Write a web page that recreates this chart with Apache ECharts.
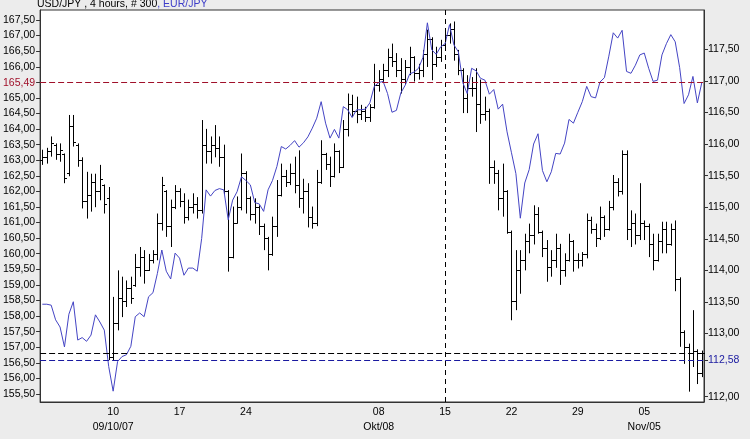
<!DOCTYPE html>
<html>
<head>
<meta charset="utf-8">
<script src="https://cdn.jsdelivr.net/npm/echarts@6/dist/echarts.min.js"></script>
<style>
html,body{margin:0;padding:0;background:#ececec;}
#c{width:750px;height:439px;}
</style>
</head>
<body>
<div id="c"></div>
<script>
// USD/JPY OHLC bars (right axis), EUR/JPY line (left axis)
const usdOpen = [
115.74,115.79,115.89,115.99,115.84,115.84,115.54,116.29,115.99,115.74,
115.10,115.20,115.40,115.25,115.35,115.15,112.63,113.17,113.57,113.52,
113.72,113.77,114.06,114.21,114.01,114.16,114.26,114.75,115.25,114.70,
115.00,115.25,115.10,114.85,115.00,115.05,114.95,115.99,115.89,115.99,
115.94,115.79,115.25,114.21,114.75,115.00,115.54,115.15,114.90,115.00,
114.70,114.51,114.26,114.70,115.20,115.49,115.40,115.54,115.35,115.15,
115.25,114.85,114.75,115.40,115.85,115.69,115.49,115.89,115.64,116.24,
116.63,116.53,116.48,116.53,116.43,116.58,116.93,117.03,117.17,117.37,
117.32,117.17,117.03,117.22,117.37,117.12,117.17,117.42,117.67,117.27,
117.37,117.57,117.72,117.82,117.42,117.17,116.73,116.88,116.88,116.63,
116.48,116.53,115.64,115.54,115.15,115.25,114.60,113.52,114.01,114.16,
114.46,114.56,114.90,114.60,114.36,114.06,114.16,114.36,114.01,114.16,
114.46,114.16,114.16,114.26,114.80,114.65,114.51,114.85,114.65,115.00,
115.40,115.25,115.84,114.65,114.75,114.56,114.75,114.70,114.41,114.16,
114.46,114.65,114.41,114.65,113.86,113.02,112.78,112.58,112.73,112.38
];
const usdHigh = [
115.91,115.94,116.12,116.01,116.01,115.85,116.46,116.46,116.01,115.79,
115.56,115.53,115.53,115.67,115.36,115.32,113.58,114.00,113.90,113.84,
113.90,114.26,114.37,114.32,114.26,114.32,114.90,115.48,115.27,115.12,
115.35,115.30,115.22,115.12,115.22,115.16,116.38,116.24,116.12,116.30,
116.12,115.99,115.27,115.01,115.17,115.85,115.57,115.17,115.14,115.03,
114.74,114.53,114.85,115.43,115.69,115.59,115.69,115.80,115.90,115.45,
115.38,115.01,115.59,116.06,115.86,115.80,116.01,115.90,116.38,116.80,
116.78,116.75,116.62,116.59,116.63,117.27,117.17,117.27,117.51,117.59,
117.44,117.36,117.33,117.54,117.39,117.27,117.49,117.81,117.69,117.54,
117.65,117.81,117.91,117.94,117.49,117.20,117.09,117.06,117.20,117.02,
116.75,116.56,115.74,115.59,115.69,115.27,114.63,114.32,114.32,114.58,
114.74,115.03,115.00,114.63,114.48,114.32,114.58,114.42,114.27,114.58,
114.48,114.27,114.29,114.90,114.85,114.74,115.01,114.87,115.10,115.51,
115.46,115.90,115.90,114.95,114.90,115.38,114.79,114.74,114.58,114.58,
114.77,114.77,114.74,114.79,113.89,113.05,112.84,113.37,112.75,112.73
];
const usdLow = [
115.67,115.69,115.80,115.75,115.72,115.38,115.49,115.96,115.64,114.98,
114.82,114.93,115.00,115.11,114.90,112.58,112.58,113.05,113.26,113.42,
113.47,113.74,113.90,113.79,113.99,114.11,114.16,114.63,114.53,114.37,
114.97,115.00,114.74,114.79,114.90,114.82,114.90,115.69,115.69,115.79,
115.64,115.20,113.98,114.19,114.74,114.95,114.90,114.79,114.74,114.56,
114.32,114.00,114.23,114.53,115.17,115.32,115.35,115.22,114.99,114.90,
114.68,114.66,114.70,115.37,115.59,115.32,115.47,115.54,115.62,116.12,
116.43,116.33,116.38,116.35,116.35,116.56,116.83,116.98,117.06,117.22,
117.06,116.80,116.95,117.09,116.99,117.02,117.06,117.22,117.01,117.22,
117.30,117.49,117.59,117.32,117.09,116.49,116.49,116.75,116.19,116.32,
116.37,115.37,115.37,114.95,114.85,114.58,113.21,113.37,113.63,114.00,
114.27,114.41,114.58,114.21,113.82,113.90,114.04,113.77,113.90,114.14,
113.98,114.03,114.06,114.19,114.58,114.37,114.48,114.53,114.63,114.95,
115.17,115.20,114.48,114.37,114.41,114.48,114.48,114.21,114.00,114.14,
114.27,114.27,114.39,113.67,112.79,112.52,112.08,112.47,112.20,112.31
];
const usdClose = [
115.79,115.89,116.01,115.84,115.91,115.47,116.29,116.04,115.74,115.10,
115.20,115.40,115.25,115.45,115.05,112.63,113.17,113.57,113.52,113.72,
113.57,114.06,114.21,114.01,114.16,114.26,114.75,115.35,114.70,115.00,
115.25,115.10,114.85,115.00,115.05,114.95,115.99,115.89,115.99,115.94,
115.79,115.25,114.21,114.75,115.00,115.54,115.15,114.90,115.00,114.70,
114.51,114.26,114.70,115.20,115.49,115.40,115.54,115.35,115.15,115.25,
114.85,114.75,115.40,115.85,115.69,115.49,115.89,115.64,116.24,116.63,
116.53,116.48,116.53,116.43,116.58,116.93,117.03,117.17,117.37,117.32,
117.17,117.03,117.22,117.37,117.12,117.17,117.42,117.67,117.27,117.37,
117.57,117.72,117.82,117.42,117.17,116.73,116.88,116.88,116.63,116.48,
116.53,115.64,115.54,115.15,115.25,114.60,113.52,114.01,114.16,114.46,
114.56,114.90,114.60,114.36,114.06,114.16,114.36,114.01,114.16,114.46,
114.16,114.16,114.26,114.80,114.65,114.51,114.85,114.65,115.00,115.40,
115.25,115.84,114.65,114.75,114.56,114.75,114.70,114.41,114.16,114.46,
114.65,114.41,114.65,113.86,113.02,112.78,112.58,112.73,112.38,112.69
];
const eurJpy = [
158.38,158.38,158.35,157.88,157.65,157.01,158.06,158.46,157.23,157.31,
157.19,157.39,158.04,157.81,157.55,156.38,155.59,156.54,156.70,156.76,
157.03,157.98,158.10,157.98,158.62,158.75,159.37,160.12,159.44,159.19,
160.02,159.86,159.31,159.54,159.54,159.44,160.49,162.05,161.85,162.03,
162.09,162.05,161.09,161.72,161.99,162.47,162.35,162.21,161.64,161.60,
161.36,162.05,162.35,162.80,163.44,163.36,163.48,163.63,163.42,163.56,
163.75,164.03,164.35,164.88,164.19,163.71,163.99,163.71,164.72,164.62,
164.37,164.62,164.62,164.64,164.84,165.37,165.49,165.53,165.14,164.54,
164.60,165.16,165.41,165.77,165.83,165.95,166.30,167.41,166.54,166.40,
166.64,166.74,167.35,166.70,166.48,165.49,165.14,165.95,165.87,165.63,
165.57,165.12,165.27,164.64,164.80,163.91,163.24,162.57,161.14,162.27,
162.70,163.52,163.85,162.67,162.31,162.63,163.22,163.20,163.55,164.31,
164.19,164.54,164.88,165.37,165.04,165.00,165.51,165.65,166.34,167.09,
166.92,167.17,165.85,165.79,166.05,166.38,166.44,165.95,165.53,165.57,
166.38,166.74,167.03,166.80,165.97,164.82,165.10,165.69,164.84,165.49
];

// x-axis tick positions (bar index) and labels
const tickIndex = [16, 31, 46, 76, 91, 106, 121, 136];
const tickDay = ['10', '17', '24', '08', '15', '22', '29', '05'];
const tickMonth = ['09/10/07', '', '', 'Okt/08', '', '', '', 'Nov/05'];

// y-axis tick labels
const leftTicks = [155.5,156,156.5,157,157.5,158,158.5,159,159.5,160,160.5,161,161.5,162,162.5,163,163.5,164,164.5,165,165.49,166,166.5,167,167.5];
const rightTicks = [112,112.58,113,113.5,114,114.5,115,115.5,116,116.5,117,117.5];

// reference levels
const eurLast = 165.49;
const usdLast = 112.69;
const usdMark = 112.58;
const markerBar = 91;

const categories = usdOpen.map((_, i) => String(i));
const ohlc = usdOpen.map((o, i) => [i, o, usdHigh[i], usdLow[i], usdClose[i]]);

const FONT = '"Liberation Sans", Arial, sans-serif';
const fmt = v => Number(v).toFixed(2).replace('.', ',');

function renderBar(params, api) {
  const i = api.value(0);
  const pO = api.coord([i, api.value(1)]);
  const pH = api.coord([i, api.value(2)]);
  const pL = api.coord([i, api.value(3)]);
  const pC = api.coord([i, api.value(4)]);
  const x = Math.round(pH[0]) + 0.5;
  const yo = Math.round(pO[1]) + 0.5;
  const yc = Math.round(pC[1]) + 0.5;
  const st = { stroke: '#000', lineWidth: 1 };
  return {
    type: 'group',
    children: [
      { type: 'line', shape: { x1: x, y1: pH[1], x2: x, y2: pL[1] }, style: st },
      { type: 'line', shape: { x1: x - 2.5, y1: yo, x2: x, y2: yo }, style: st },
      { type: 'line', shape: { x1: x, y1: yc, x2: x + 2.5, y2: yc }, style: st }
    ]
  };
}

const chart = echarts.init(document.getElementById('c'));
chart.setOption({
  animation: false,
  backgroundColor: '#ececec',
  textStyle: { fontFamily: FONT },
  title: {
    text: 'USD/JPY , 4 hours, # 300{b|, EUR/JPY}',
    left: 37, top: -1, padding: 0,
    textStyle: {
      fontFamily: FONT, fontSize: 10.5, fontWeight: 'normal', color: '#000',
      rich: { b: { fontFamily: FONT, fontSize: 10.5, color: '#3c3cc8' } }
    }
  },
  grid: {
    left: 38, right: 46, top: 10, bottom: 37,
    show: true, backgroundColor: '#ffffff', borderColor: '#333', borderWidth: 1
  },
  xAxis: {
    type: 'category',
    data: categories,
    boundaryGap: true,
    axisLine: { lineStyle: { color: '#333' } },
    axisTick: {
      alignWithLabel: true, length: 3,
      interval: (i) => tickIndex.includes(i),
      lineStyle: { color: '#333' }
    },
    axisLabel: {
      interval: (i) => tickIndex.includes(i),
      formatter: (v, i) => {
        const k = tickIndex.indexOf(Number(v));
        if (k < 0) return '';
        return tickMonth[k] ? tickDay[k] + '\n' + tickMonth[k] : tickDay[k];
      },
      fontFamily: FONT, fontSize: 10.5, color: '#000', lineHeight: 15, margin: 3
    },
    splitLine: { show: false }
  },
  yAxis: [
    {
      type: 'value', position: 'left',
      min: 155.243, max: 167.821,
      axisLine: { show: true, lineStyle: { color: '#333' } },
      axisTick: { show: true, length: 4, customValues: leftTicks, lineStyle: { color: '#333' } },
      axisLabel: {
        customValues: leftTicks,
        formatter: fmt,
        color: (v) => Math.abs(Number(v) - eurLast) < 1e-6 ? '#a0102a' : '#000',
        fontFamily: FONT, fontSize: 10.5, margin: 5
      },
      splitLine: { show: false }
    },
    {
      type: 'value', position: 'right',
      min: 111.916, max: 118.122,
      axisLine: { show: true, lineStyle: { color: '#333' } },
      axisTick: { show: true, length: 4, customValues: rightTicks, lineStyle: { color: '#333' } },
      axisLabel: {
        customValues: rightTicks,
        formatter: fmt,
        color: (v) => Math.abs(Number(v) - usdMark) < 1e-6 ? '#1a1aa0' : '#000',
        fontFamily: FONT, fontSize: 10.5, margin: 4
      },
      splitLine: { show: false }
    }
  ],
  series: [
    {
      name: 'USD/JPY',
      type: 'custom',
      xAxisIndex: 0, yAxisIndex: 1,
      renderItem: renderBar,
      encode: { x: 0, y: [1, 2, 3, 4] },
      data: ohlc,
      clip: true,
      z: 2,
      markLine: {
        silent: true, symbol: 'none', label: { show: false },
        data: [
          { yAxis: usdLast, lineStyle: { color: '#000', type: [6, 3], width: 1 } },
          { yAxis: usdMark, lineStyle: { color: '#1a1aa0', type: [6, 3], width: 1 } },
          { xAxis: markerBar, lineStyle: { color: '#000', type: [5, 4], width: 1 } }
        ]
      }
    },
    {
      name: 'EUR/JPY',
      type: 'line',
      xAxisIndex: 0, yAxisIndex: 0,
      data: eurJpy,
      showSymbol: false, symbol: 'none',
      lineStyle: { color: '#4444c4', width: 1 },
      z: 3,
      markLine: {
        silent: true, symbol: 'none', label: { show: false },
        data: [
          { yAxis: eurLast, lineStyle: { color: '#a0102a', type: [6, 3], width: 1 } }
        ]
      }
    }
  ]
});
</script>
</body>
</html>
